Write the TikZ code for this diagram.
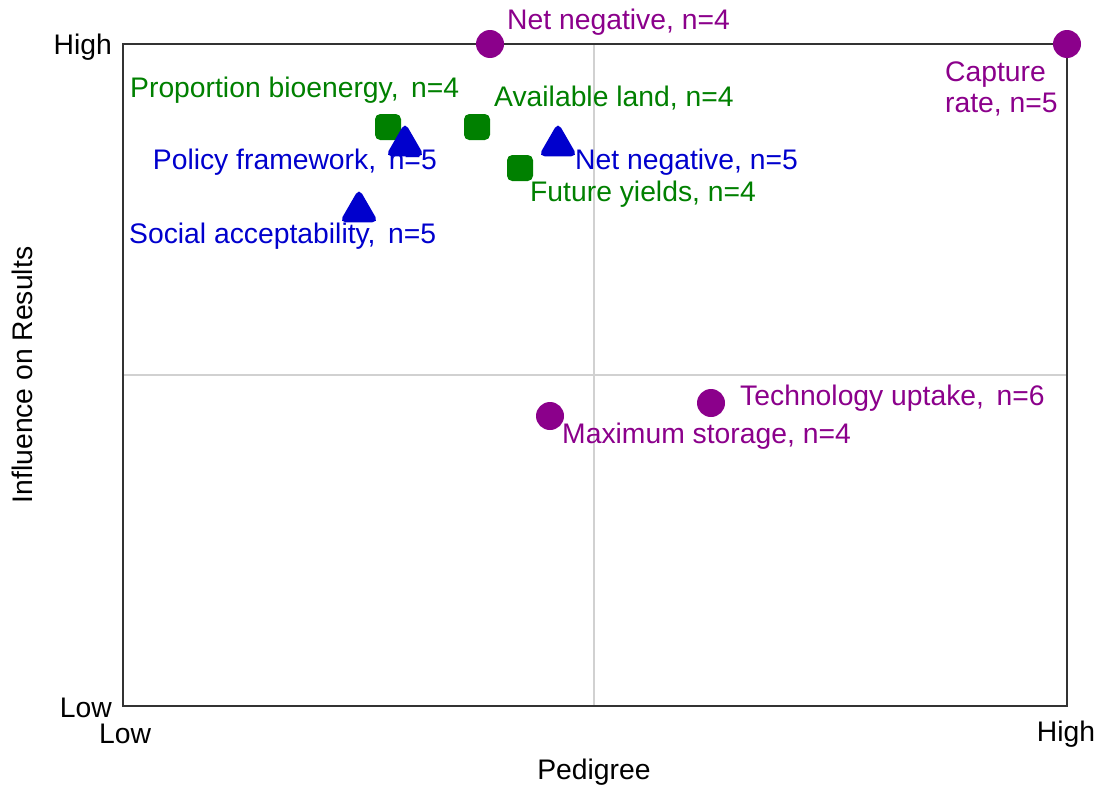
\documentclass[tikz,border=0pt]{standalone}
\usepackage{fontspec}
\setmainfont{Liberation Sans}
\usetikzlibrary{shapes.geometric}
\definecolor{cpurple}{HTML}{8B008B}
\definecolor{cgreen}{HTML}{008000}
\definecolor{cblue}{HTML}{0000CD}
\begin{document}
\begin{tikzpicture}[x=1pt,y=-1pt,
  every node/.style={font=\fontsize{28.3}{31}\selectfont, inner sep=0pt},
  circmark/.style={circle, fill=cpurple, minimum size=28pt},
  sqmark/.style={rectangle, fill=cgreen, draw=cgreen, line width=3pt, rounded corners=4pt, minimum size=23pt},
  trimark/.style={regular polygon, regular polygon sides=3, fill=cblue, draw=cblue, line width=4pt, rounded corners=3pt, minimum size=37pt},
  plab/.style={text=cpurple, anchor=west},
  glab/.style={text=cgreen, anchor=west},
  blab/.style={text=cblue, anchor=west},
  axlab/.style={text=black}]
\useasboundingbox (0,0) rectangle (1098,787);
% grid
\draw[black!18, line width=1.2pt] (594,44) -- (594,706);
\draw[black!18, line width=1.2pt] (123,375) -- (1067,375);
% frame
\draw[black!80, line width=1.6pt] (123,44) rectangle (1067,706);
% axis ticks labels
\node[axlab, anchor=east] (yhigh) at (112,47) {High};
\node[axlab, anchor=east] (ylow) at (112,708) {Low};
\node[axlab] (xlow) at (125,734) {Low};
\node[axlab] (xhigh) at (1066,734) {High};
\node[axlab] (xtitle) at (594,772) {Pedigree};
\node[axlab, rotate=90] (ytitle) at (22,375) {Influence on Results};
% purple circles
\node[circmark] (nn4) at (490,44) {};
\node[plab] (nn4l) at (507,22) {Net negative, n=4};
\node[circmark] (cap) at (1067,44) {};
\node[text=cpurple, align=left, anchor=west] (capl) at (945,89) {Capture\\rate, n=5};
\node[circmark] (tech) at (711,403) {};
\node[plab] (techl) at (740,398) {Technology uptake,\, n=6};
\node[circmark] (maxs) at (550,416) {};
\node[plab] (maxsl) at (562,436) {Maximum storage, n=4};
% green squares
\node[sqmark] (pb) at (388,127) {};
\node[glab] (pbl) at (130,90) {Proportion bioenergy,\, n=4};
\node[sqmark] (al) at (477,127) {};
\node[glab] (all) at (494,98) {Available land, n=4};
\node[sqmark] (fy) at (520,168) {};
\node[glab] (fyl) at (530,194) {Future yields, n=4};
% blue triangles
\node[trimark] (pf) at (405,145) {};
\node[blab, anchor=east] (pfl) at (437,162) {Policy framework,\, n=5};
\node[trimark] (nn5) at (558,145) {};
\node[blab] (nn5l) at (575,162) {Net negative, n=5};
\node[trimark] (sa) at (359,211) {};
\node[blab] (sal) at (129,236) {Social acceptability,\, n=5};
\end{tikzpicture}
\end{document}
